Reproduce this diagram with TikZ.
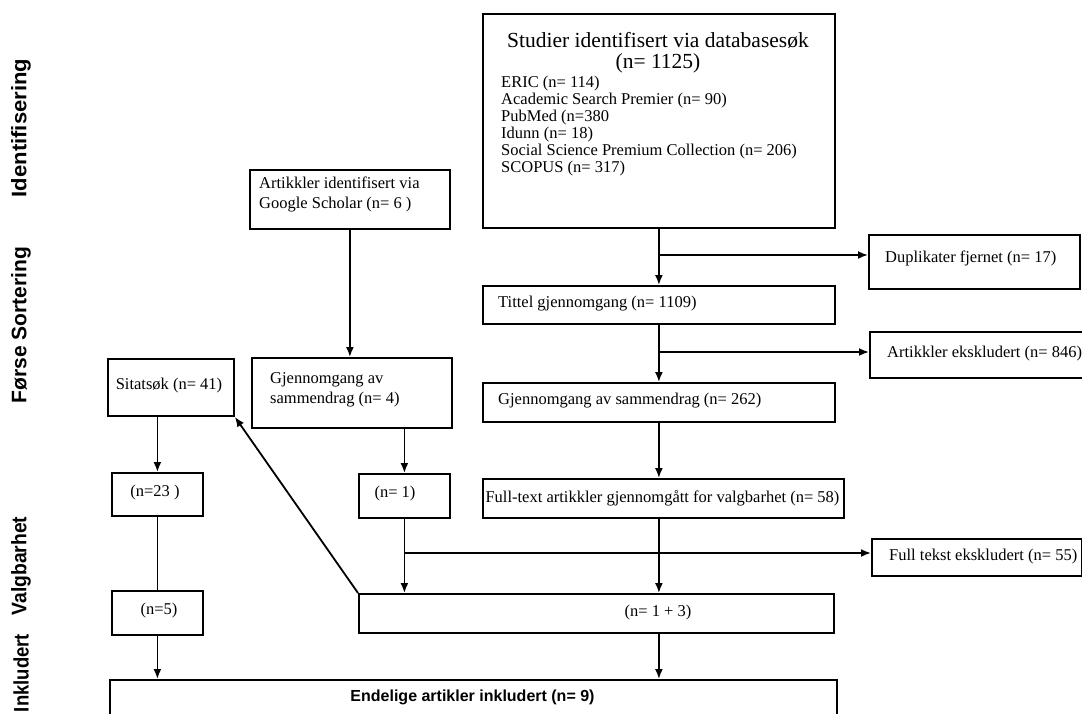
\documentclass[tikz,border=0pt]{standalone}
\usepackage{fontspec}
\usepackage{graphicx}
\setmainfont{Liberation Serif}
\setsansfont{Liberation Sans}
\usetikzlibrary{arrows.meta}
\begin{document}
\begin{tikzpicture}[x=1pt,y=-1pt,
  box/.style={draw, line width=1.8pt, inner sep=0pt, anchor=north west},
  txt/.style={inner sep=0pt, font=\fontsize{16.5}{20}\selectfont},
  lab/.style={inner sep=0pt, rotate=90, font=\sffamily\bfseries\fontsize{21}{24}\selectfont},
  arr/.style={line width=1.8pt, -{Latex[length=10pt,width=8pt]}},
  ln/.style={line width=1.8pt}]
\clip (0,0) rectangle (1082,713);
\fill[white] (0,0) rectangle (1082,713);
% side labels
\node[lab] (l1) at (21,128) {\scalebox{1.05}[1]{Identifisering}};
\node[lab] (l2) at (21,325) {Førse Sortering};
\node[lab] (l3) at (21,566) {\scalebox{0.92}[1]{Valgbarhet}};
\node[lab] (l4) at (21,673) {\scalebox{0.88}[1]{Inkludert}};
% boxes
\node[box, minimum width=352pt, minimum height=214pt] (main) at (482,13) {};
\node[txt, font=\fontsize{21.5}{23}\selectfont] (mt1) at (658,40) {Studier identifisert via databasesøk};
\node[txt, font=\fontsize{21.5}{23}\selectfont] (mt2) at (658,63) {(n= 1125)};
\node[txt, font=\fontsize{16.5}{17}\selectfont, align=left, anchor=north west] (mlist) at (501,76)
  {ERIC (n= 114)\\Academic Search Premier (n= 90)\\PubMed (n=380\\Idunn (n= 18)\\Social Science Premium Collection (n= 206)\\SCOPUS (n= 317)};
\node[box, minimum width=200pt, minimum height=59pt] (gs) at (249,169) {};
\node[txt, align=left, anchor=north west] (gst) at (259,177) {Artikkler identifisert via\\Google Scholar (n= 6 )};
\node[box, minimum width=200pt, minimum height=70pt] (g4) at (251,357) {};
\node[txt, align=left, anchor=north west] (g4t) at (270,372) {Gjennomgang av\\sammendrag (n= 4)};
\node[box, minimum width=126pt, minimum height=57pt] (sit) at (107,358) {};
\node[txt] (sitt) at (169,386) {Sitatsøk (n= 41)};
\node[box, minimum width=91pt, minimum height=43pt] (n23) at (111,472) {};
\node[txt] (n23t) at (155,493) {(n=23 )};
\node[box, minimum width=91pt, minimum height=44pt] (n5) at (111,590) {};
\node[txt] (n5t) at (159,611) {(n=5)};
\node[box, minimum width=91pt, minimum height=44pt] (n1) at (358,473) {};
\node[txt] (n1t) at (395,494) {(n= 1)};
\node[box, minimum width=352pt, minimum height=38pt] (tit) at (482,285) {};
\node[txt, anchor=west] (titt) at (498,304) {Tittel gjennomgang (n= 1109)};
\node[box, minimum width=352pt, minimum height=39pt] (g262) at (482,382) {};
\node[txt, anchor=west] (g262t) at (498,401) {Gjennomgang av sammendrag (n= 262)};
\node[box, minimum width=361pt, minimum height=39pt] (ft) at (482,478) {};
\node[txt] (ftt) at (662.5,498) {Full-text artikkler gjennomgått for valgbarhet (n= 58)};
\node[box, minimum width=475pt, minimum height=39pt] (nplus) at (358,593) {};
\node[txt] (nplust) at (658,613) {(n= 1 + 3)};
\node[box, minimum width=211pt, minimum height=54pt] (dup) at (868,234) {};
\node[txt, anchor=west] (dupt) at (885,258) {Duplikater fjernet (n= 17)};
\node[box, minimum width=240pt, minimum height=46pt] (art) at (869,331) {};
\node[txt, anchor=west] (artt) at (887,354) {Artikkler ekskludert (n= 846)};
\node[box, minimum width=210pt, minimum height=37pt] (ftx) at (871,538) {};
\node[txt, anchor=west] (ftxt) at (889,557) {Full tekst ekskludert (n= 55)};
\node[box, minimum width=727pt, minimum height=60pt] (fin) at (109,679) {};
\node[inner sep=0pt, font=\sffamily\bfseries\fontsize{16}{19}\selectfont] (fint) at (472.5,697) {Endelige artikler inkludert (n= 9)};
% connectors
\coordinate (j1) at (658,255);
\coordinate (j2) at (658,352);
\coordinate (y553) at (0,553);
\draw[arr] (main.south) -- (tit.north);
\draw[arr] (j1) -- (j1 -| dup.west);
\draw[arr] (tit.south) -- (g262.north);
\draw[arr] (j2) -- (j2 -| art.west);
\draw[arr] (g262.south) -- (g262.south |- ft.north);
\draw[arr] (g262.south |- ft.south) -- (g262.south |- nplus.north);
\draw[arr] (n1.south |- y553) -- (y553 -| ftx.west);
\draw[arr] (n1.south) -- (n1.south |- nplus.north);
\draw[arr] (gs.south) -- (gs.south |- g4.north);
\draw[arr] (n1.north |- g4.south) -- (n1.north);
\draw[arr] (sit.south -| n23.north) -- (n23.north);
\draw[ln] (n23.south) -- (n5.north);
\draw[arr] (n5.south) -- (n5.south |- fin.north);
\draw[arr] (g262.south |- nplus.south) -- (g262.south |- fin.north);
\draw[arr] (nplus.north west) -- (sit.south east);
\end{tikzpicture}
\end{document}
